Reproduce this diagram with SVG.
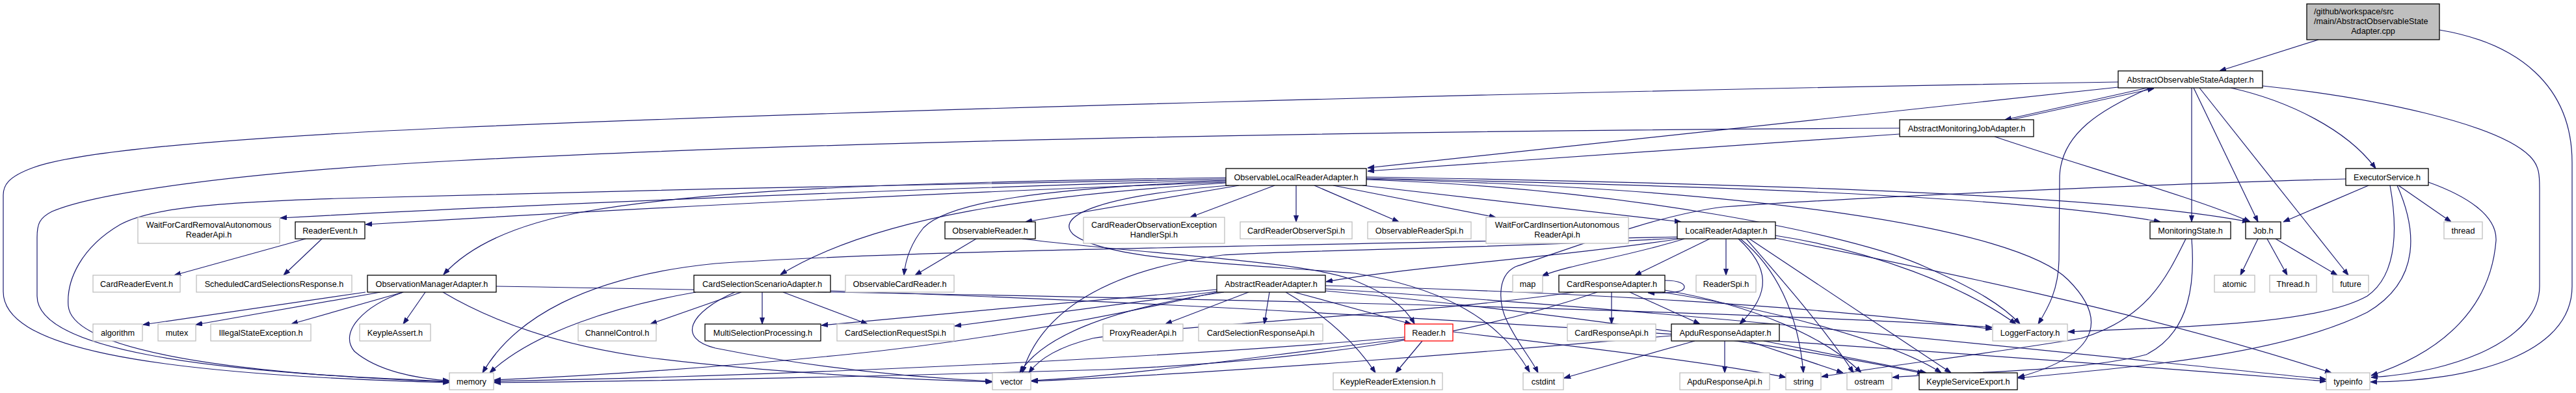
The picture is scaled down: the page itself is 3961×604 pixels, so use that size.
<svg xmlns="http://www.w3.org/2000/svg" width="3961" height="604" viewBox="0 0 3961 604">
<style>
rect{fill:#fff;stroke-width:1.3}
.k rect{stroke:#000}
.g rect{stroke:#bfbfbf}
.r rect{stroke:#f00}
.root rect{fill:#bfbfbf;stroke:#000}
text{font-family:"Liberation Sans",Arial,Helvetica,sans-serif;font-size:12.7px;fill:#000;text-anchor:middle}
.e path{fill:none;stroke:#191970;stroke-width:1.2;marker-end:url(#a)}
</style>
<defs>
<marker id="a" markerWidth="10" markerHeight="8" refX="10" refY="4" orient="auto" markerUnits="userSpaceOnUse"><path d="M0,0.5 L10,4 L0,7.5 z" fill="#191970" stroke="#191970" stroke-width="1"/></marker>
</defs>
<rect x="0" y="0" width="3961" height="604" style="fill:#fff;stroke:none"/>
<g class="e" id="edges">
<path d="M3565,61 L3413,109"/>
<path d="M3751,46 C3870,66 3955,130 3955,250 L3955,440 C3955,545 3800,586 3645,587"/>
<path d="M3302,135 L3083,184"/>
<path d="M3093,184 L3312,136"/>
<path d="M3257,134 L2103,258"/>
<path d="M2921,206 L2103,263"/>
<path d="M3430,135 C3520,155 3610,200 3653,259"/>
<path d="M3370,135 L3370,341"/>
<path d="M3373,135 L3472,341"/>
<path d="M3382,135 L3611,423"/>
<path d="M3306,135 C3230,168 3170,205 3167,270 L3166,400 C3165,445 3150,472 3134,498"/>
<path d="M3479,132 C3650,150 3840,190 3890,240 C3905,255 3905,270 3905,290 L3905,440 C3905,520 3780,572 3646,580"/>
<path d="M3257,126 C2400,140 1300,170 700,196 C350,212 120,232 50,258 C12,272 5,285 5,300 L5,448 C5,530 200,575 691,588"/>
<path d="M2921,197 C2200,200 1300,215 700,247 C380,264 150,295 80,325 C60,335 57,345 57,365 L57,455 C57,535 300,572 691,586"/>
<path d="M3067,210 C3200,255 3380,305 3460,341"/>
<path d="M1885,275 C1500,282 950,292 520,305 C330,311 230,320 185,345 C125,380 102,430 105,470 C110,530 300,572 691,587"/>
<path d="M1885,277 C1400,290 800,315 431,335"/>
<path d="M1885,280 C1400,298 900,325 562,345"/>
<path d="M1885,273 C1400,280 1100,290 900,325 C790,345 720,380 682,422"/>
<path d="M1885,281 C1600,300 1350,330 1200,422"/>
<path d="M1905,285 L1577,341"/>
<path d="M1885,278 C1600,290 1460,310 1420,350 C1400,375 1392,400 1390,423"/>
<path d="M1960,285 L1830,334"/>
<path d="M1993,285 L1993,341"/>
<path d="M2021,285 L2151,341"/>
<path d="M2050,285 L2300,334"/>
<path d="M2095,285 L2585,341"/>
<path d="M2101,274 C2600,285 3100,300 3322,341"/>
<path d="M2101,272 C2700,282 3250,300 3458,341"/>
<path d="M2101,276 C2500,290 2850,360 2960,410 C3040,445 3080,470 3106,498"/>
<path d="M2101,275 C2700,290 3100,350 3180,430 C3240,490 3230,545 3103,580"/>
<path d="M1890,285 C1700,300 1620,330 1650,360 C1700,400 1900,405 2084,420 C2200,440 2300,480 2352,572"/>
<path d="M470,367 L268,423"/>
<path d="M495,367 L436,423"/>
<path d="M1501,367 L1407,423"/>
<path d="M1572,367 C1750,390 2000,400 2080,430 C2130,450 2160,470 2175,498"/>
<path d="M2583,367 C2400,395 2150,412 2039,433"/>
<path d="M2590,367 C2500,395 2420,405 2371,424"/>
<path d="M2629,367 L2514,423"/>
<path d="M2654,367 L2654,423"/>
<path d="M2673,367 C2720,410 2725,450 2675,498"/>
<path d="M2676,367 C2730,410 2765,480 2773,573"/>
<path d="M2685,367 C2740,430 2810,510 2850,573"/>
<path d="M2690,367 L3000,573"/>
<path d="M2730,362 C2880,385 3020,440 3100,498"/>
<path d="M2730,366 C2950,410 3300,480 3585,573"/>
<path d="M2580,366 C2300,382 2000,384 1880,392 C1700,415 1600,480 1572,573"/>
<path d="M2580,364 C2000,378 1400,384 1100,405 C900,425 790,490 742,573"/>
<path d="M2478,449 L2478,498"/>
<path d="M2506,449 L2614,498"/>
<path d="M2420,449 C2200,482 1800,500 1680,520 C1620,535 1595,555 1582,573"/>
<path d="M2456,449 C2250,520 2000,555 1700,568 C1300,580 1000,586 760,588"/>
<path d="M2560,446 C2700,470 2810,520 2862,573"/>
<path d="M2556,449 C2750,480 2920,530 2985,573"/>
<path d="M2560,431 C2584,431 2590,437 2590,441 C2590,447 2582,451 2534,450"/>
<path d="M2652,524 L2652,573"/>
<path d="M2688,524 L2834,573"/>
<path d="M2712,524 L2962,573"/>
<path d="M2606,524 L2405,581"/>
<path d="M2570,516 C2300,540 1900,572 1586,586"/>
<path d="M2187,524 L2146,573"/>
<path d="M2234,510 C2450,535 2650,560 2746,580"/>
<path d="M2160,518 C1800,550 1200,578 760,586"/>
<path d="M2160,521 C1950,545 1750,577 1586,585"/>
<path d="M1871,445 C1700,460 1450,482 1263,500"/>
<path d="M1871,448 L1468,501"/>
<path d="M1920,449 L1792,498"/>
<path d="M1952,449 L1944,498"/>
<path d="M1990,449 L2170,498"/>
<path d="M1977,449 C2030,480 2080,520 2115,573"/>
<path d="M1871,449 C1650,500 1450,530 1300,545 C1100,565 900,578 760,584"/>
<path d="M1882,449 C1700,475 1600,520 1568,573"/>
<path d="M2038,439 C2400,448 2800,470 3063,506"/>
<path d="M2038,444 C2600,478 3200,545 3577,583"/>
<path d="M2038,447 C2400,480 2800,540 2958,574"/>
<path d="M1140,449 L1000,498"/>
<path d="M1172,449 L1172,498"/>
<path d="M1204,449 L1334,498"/>
<path d="M1070,449 C950,470 820,510 753,573"/>
<path d="M1130,449 C1060,480 1040,520 1100,535 C1250,565 1400,580 1525,586"/>
<path d="M1277,447 C2000,470 3000,540 3577,586"/>
<path d="M562,449 L220,499"/>
<path d="M585,449 L301,499"/>
<path d="M620,449 L448,498"/>
<path d="M654,449 L620,498"/>
<path d="M620,449 C560,470 520,510 545,540 C580,570 640,582 691,585"/>
<path d="M681,449 C750,490 850,530 1000,550 C1200,575 1400,583 1526,587"/>
<path d="M763,440 C1500,452 2600,472 3063,503"/>
<path d="M3472,367 L3445,423"/>
<path d="M3486,367 L3517,423"/>
<path d="M3499,367 L3594,423"/>
<path d="M3642,285 L3511,341"/>
<path d="M3688,285 L3769,341"/>
<path d="M3734,280 C3790,300 3840,330 3838,370 C3830,470 3760,540 3646,577"/>
<path d="M3675,285 C3685,340 3690,420 3640,455 C3560,500 3350,502 3180,510"/>
<path d="M3686,285 C3715,350 3725,430 3640,480 C3500,550 3250,566 3103,581"/>
<path d="M3607,275 C3400,280 2900,300 2650,318 C2550,330 2420,380 2330,410 C2300,425 2305,470 2318,495 C2335,530 2355,552 2365,573"/>
<path d="M3361,367 C3330,430 3300,490 3200,520 C3050,545 2900,562 2801,579"/>
<path d="M3370,367 C3375,430 3370,510 3300,545 C3200,572 3000,572 2910,580"/>
</g>
<g id="n_root" class="root"><rect x="3547" y="6" width="204" height="55"/><text x="3558" y="22" style="text-anchor:start">/github/workspace/src</text><text x="3558" y="37" style="text-anchor:start">/main/AbstractObservableState</text><text x="3649" y="51.5">Adapter.cpp</text></g>
<g id="n_aosa" class="k"><rect x="3257" y="109" width="222" height="26"/><text x="3368" y="126.5">AbstractObservableStateAdapter.h</text></g>
<g id="n_amja" class="k"><rect x="2921" y="184" width="206" height="26"/><text x="3024" y="201.5">AbstractMonitoringJobAdapter.h</text></g>
<g id="n_olra" class="k"><rect x="1885" y="259" width="216" height="26"/><text x="1993" y="276.5">ObservableLocalReaderAdapter.h</text></g>
<g id="n_exec" class="k"><rect x="3607" y="259" width="127" height="26"/><text x="3670.5" y="276.5">ExecutorService.h</text></g>
<g id="n_wfcr" class="g"><rect x="212" y="334" width="218" height="40"/><text x="321" y="350">WaitForCardRemovalAutonomous</text><text x="321" y="365">ReaderApi.h</text></g>
<g id="n_readerevent" class="k"><rect x="454" y="341" width="107" height="26"/><text x="507.5" y="358.5">ReaderEvent.h</text></g>
<g id="n_obsreader" class="k"><rect x="1453" y="341" width="139" height="26"/><text x="1522.5" y="358.5">ObservableReader.h</text></g>
<g id="n_croehs" class="g"><rect x="1666" y="334" width="217" height="40"/><text x="1774.5" y="350">CardReaderObservationException</text><text x="1774.5" y="365">HandlerSpi.h</text></g>
<g id="n_cros" class="g"><rect x="1907" y="341" width="172" height="26"/><text x="1993" y="358.5">CardReaderObserverSpi.h</text></g>
<g id="n_orspi" class="g"><rect x="2103" y="341" width="159" height="26"/><text x="2182.5" y="358.5">ObservableReaderSpi.h</text></g>
<g id="n_wfci" class="g"><rect x="2285" y="334" width="219" height="40"/><text x="2394.5" y="350">WaitForCardInsertionAutonomous</text><text x="2394.5" y="365">ReaderApi.h</text></g>
<g id="n_lra" class="k"><rect x="2579" y="341" width="151" height="26"/><text x="2654.5" y="358.5">LocalReaderAdapter.h</text></g>
<g id="n_ms" class="k"><rect x="3306" y="341" width="124" height="26"/><text x="3368" y="358.5">MonitoringState.h</text></g>
<g id="n_job" class="k"><rect x="3453" y="341" width="54" height="26"/><text x="3480" y="358.5">Job.h</text></g>
<g id="n_thread" class="g"><rect x="3758" y="341" width="59" height="26"/><text x="3787.5" y="358.5">thread</text></g>
<g id="n_cre" class="g"><rect x="143" y="423" width="134" height="26"/><text x="210" y="440.5">CardReaderEvent.h</text></g>
<g id="n_scsr" class="g"><rect x="302" y="423" width="239" height="26"/><text x="421.5" y="440.5">ScheduledCardSelectionsResponse.h</text></g>
<g id="n_oma" class="k"><rect x="565" y="423" width="198" height="26"/><text x="664" y="440.5">ObservationManagerAdapter.h</text></g>
<g id="n_cssa" class="k"><rect x="1067" y="423" width="210" height="26"/><text x="1172" y="440.5">CardSelectionScenarioAdapter.h</text></g>
<g id="n_ocr" class="g"><rect x="1300" y="423" width="167" height="26"/><text x="1383.5" y="440.5">ObservableCardReader.h</text></g>
<g id="n_ara" class="k"><rect x="1871" y="423" width="167" height="26"/><text x="1954.5" y="440.5">AbstractReaderAdapter.h</text></g>
<g id="n_map" class="g"><rect x="2326" y="423" width="46" height="26"/><text x="2349" y="440.5">map</text></g>
<g id="n_cra" class="k"><rect x="2397" y="423" width="163" height="26"/><text x="2478.5" y="440.5">CardResponseAdapter.h</text></g>
<g id="n_readerspi" class="g"><rect x="2608" y="423" width="92" height="26"/><text x="2654" y="440.5">ReaderSpi.h</text></g>
<g id="n_atomic" class="g"><rect x="3405" y="423" width="62" height="26"/><text x="3436" y="440.5">atomic</text></g>
<g id="n_threadh" class="g"><rect x="3490" y="423" width="72" height="26"/><text x="3526" y="440.5">Thread.h</text></g>
<g id="n_future" class="g"><rect x="3587" y="423" width="55" height="26"/><text x="3614.5" y="440.5">future</text></g>
<g id="n_algorithm" class="g"><rect x="143" y="498" width="76" height="26"/><text x="181" y="515.5">algorithm</text></g>
<g id="n_mutex" class="g"><rect x="243" y="498" width="58" height="26"/><text x="272" y="515.5">mutex</text></g>
<g id="n_ise" class="g"><rect x="324" y="498" width="154" height="26"/><text x="401" y="515.5">IllegalStateException.h</text></g>
<g id="n_kassert" class="g"><rect x="553" y="498" width="109" height="26"/><text x="607.5" y="515.5">KeypleAssert.h</text></g>
<g id="n_cc" class="g"><rect x="889" y="498" width="120" height="26"/><text x="949" y="515.5">ChannelControl.h</text></g>
<g id="n_msp" class="k"><rect x="1084" y="498" width="178" height="26"/><text x="1173" y="515.5">MultiSelectionProcessing.h</text></g>
<g id="n_csrs" class="g"><rect x="1287" y="498" width="180" height="26"/><text x="1377" y="515.5">CardSelectionRequestSpi.h</text></g>
<g id="n_pra" class="g"><rect x="1696" y="498" width="123" height="26"/><text x="1757.5" y="515.5">ProxyReaderApi.h</text></g>
<g id="n_csresapi" class="g"><rect x="1843" y="498" width="191" height="26"/><text x="1938.5" y="515.5">CardSelectionResponseApi.h</text></g>
<g id="n_reader" class="r"><rect x="2160" y="498" width="74" height="26"/><text x="2197" y="515.5">Reader.h</text></g>
<g id="n_crapi" class="g"><rect x="2410" y="498" width="136" height="26"/><text x="2478" y="515.5">CardResponseApi.h</text></g>
<g id="n_arespa" class="k"><rect x="2570" y="498" width="166" height="26"/><text x="2653" y="515.5">ApduResponseAdapter.h</text></g>
<g id="n_logger" class="g"><rect x="3064" y="498" width="115" height="26"/><text x="3121.5" y="515.5">LoggerFactory.h</text></g>
<g id="n_memory" class="g"><rect x="691" y="573" width="68" height="26"/><text x="725" y="590.5">memory</text></g>
<g id="n_vector" class="g"><rect x="1526" y="573" width="59" height="26"/><text x="1555.5" y="590.5">vector</text></g>
<g id="n_kre" class="g"><rect x="2050" y="573" width="168" height="26"/><text x="2134" y="590.5">KeypleReaderExtension.h</text></g>
<g id="n_cstdint" class="g"><rect x="2342" y="573" width="62" height="26"/><text x="2373" y="590.5">cstdint</text></g>
<g id="n_arapi" class="g"><rect x="2583" y="573" width="138" height="26"/><text x="2652" y="590.5">ApduResponseApi.h</text></g>
<g id="n_string" class="g"><rect x="2746" y="573" width="54" height="26"/><text x="2773" y="590.5">string</text></g>
<g id="n_ostream" class="g"><rect x="2840" y="573" width="69" height="26"/><text x="2874.5" y="590.5">ostream</text></g>
<g id="n_kse" class="k"><rect x="2951" y="573" width="151" height="26"/><text x="3026.5" y="590.5">KeypleServiceExport.h</text></g>
<g id="n_typeinfo" class="g"><rect x="3577" y="573" width="67" height="26"/><text x="3610.5" y="590.5">typeinfo</text></g>
</svg>
